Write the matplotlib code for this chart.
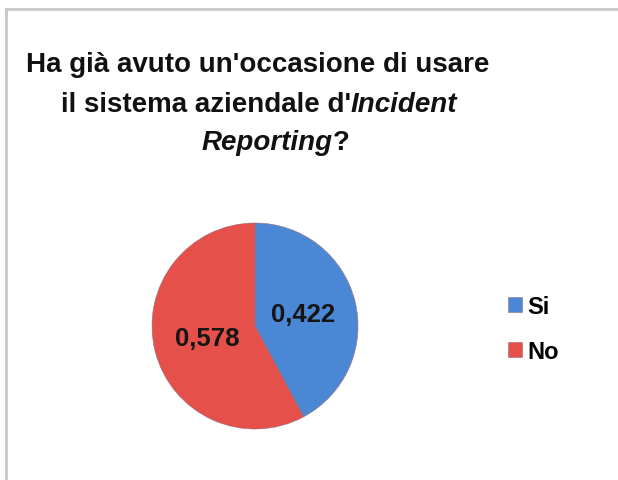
import matplotlib
matplotlib.use("Agg")
import matplotlib.pyplot as plt
from matplotlib.lines import Line2D

categories = ["Si", "No"]
values = [0.422, 0.578]
colors = ["#4a88d6", "#e5504a"]

title_lines = [
    [("Ha già avuto un'occasione di usare", "normal")],
    [("il sistema aziendale d'", "normal"), ("Incident", "italic")],
    [("Reporting", "italic"), ("?", "normal")],
]

W, H = 618, 481
fig = plt.figure(figsize=(W / 100, H / 100), dpi=100)
fig.patch.set_facecolor("white")
ax = fig.add_axes([0, 0, 1, 1])
ax.set_xlim(0, W)
ax.set_ylim(0, H)
ax.set_aspect("equal")
ax.axis("off")

# chart frame (top and left edges visible)
ax.add_line(Line2D([6, W], [H - 10, H - 10], color="#c8c8c8", lw=2))
ax.add_line(Line2D([6, 6], [0, H - 10], color="#c8c8c8", lw=2))

FONT = "Liberation Sans"

wedges, texts, autotexts = ax.pie(
    values,
    colors=colors,
    startangle=90,
    counterclock=False,
    center=(255, H - 327),
    radius=103,
    autopct=lambda p: f"{p / 100:.3f}".replace(".", ","),
    pctdistance=0.48,
    wedgeprops=dict(edgecolor="#9a6a78", linewidth=0.4),
    textprops=dict(fontfamily=FONT, fontweight="bold", fontsize=18.5, color="#151515"),
    frame=True,
)
ax.set_xlim(0, W)
ax.set_ylim(0, H)
ax.axis("off")

leg = ax.legend(
    wedges, categories,
    loc="center left",
    bbox_to_anchor=(508 / W, 1 - 330 / H),
    bbox_transform=fig.transFigure,
    frameon=False,
    prop=dict(family=FONT, weight="bold", size=17),
    handlelength=0.6, handleheight=0.6, handletextpad=0.2,
    labelspacing=0.95, borderpad=0, borderaxespad=0,
)

# title: centred lines with mixed upright / italic runs
fig.canvas.draw()
renderer = fig.canvas.get_renderer()
line_y = [65, 105, 143]
line_cx = [258, 259, 276]
for parts, y, cx in zip(title_lines, line_y, line_cx):
    objs = []
    for s, style in parts:
        t = fig.text(0, 1 - y / H, s, fontfamily=FONT, fontweight="bold",
                     fontstyle=style, fontsize=20, color="#111111",
                     va="center", ha="left")
        objs.append(t)
    widths = [o.get_window_extent(renderer).width for o in objs]
    total = sum(widths)
    x = cx - total / 2
    for o, w in zip(objs, widths):
        o.set_x(x / W)
        x += w

fig.savefig("out.png", dpi=100, facecolor="white")
